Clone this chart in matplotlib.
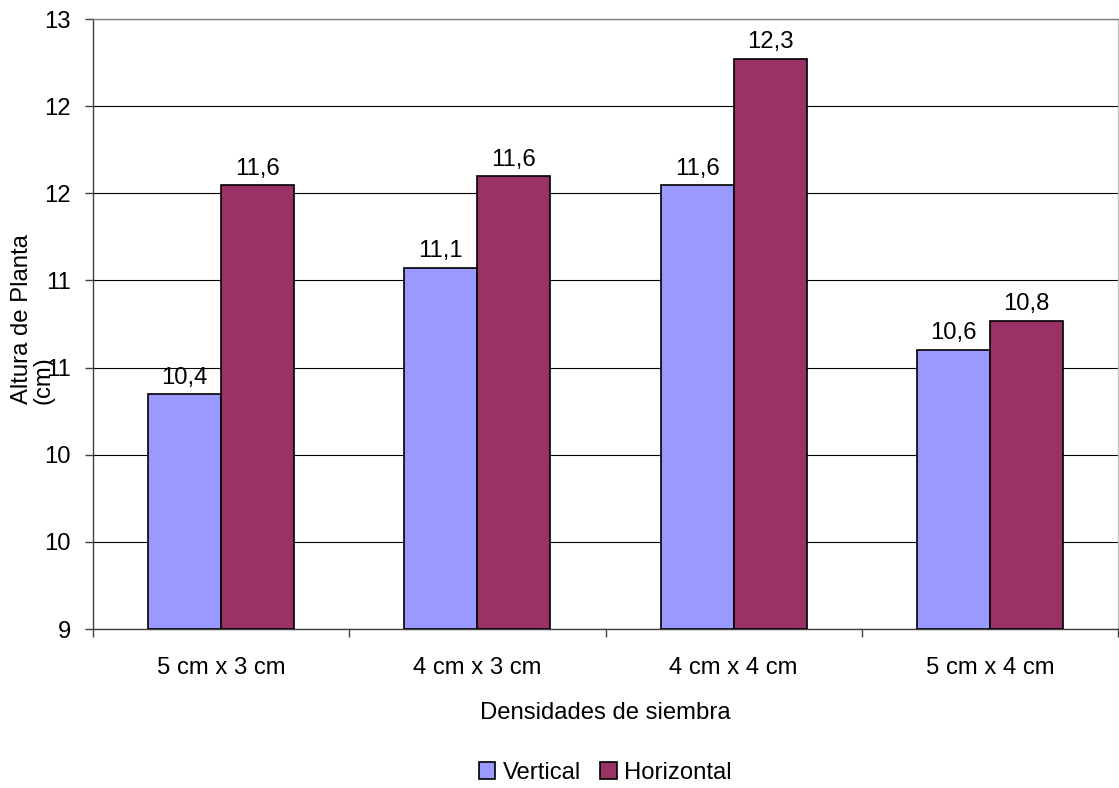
import numpy as np
import matplotlib
matplotlib.use("Agg")
import matplotlib.pyplot as plt

plt.rcParams['font.family'] = ['Liberation Sans', 'DejaVu Sans']

# data
categories = ['5 cm x 3 cm', '4 cm x 3 cm', '4 cm x 4 cm', '5 cm x 4 cm']
vertical = [10.54, 11.37, 11.91, 10.83]
horizontal = [11.91, 11.97, 12.74, 11.02]
vertical_labels = ['10,4', '11,1', '11,6', '10,6']
horizontal_labels = ['11,6', '11,6', '12,3', '10,8']
ytick_values = np.linspace(9, 13, 8)
ytick_labels = ['9', '10', '10', '11', '11', '12', '12', '13']

FS = 17.2
fig = plt.figure(figsize=(11.19, 7.88), dpi=100)
ax = fig.add_axes([93 / 1119, 1 - 629 / 788, 1025 / 1119, 610 / 788])

x = np.arange(len(categories))
w = 0.285
bv = ax.bar(x - w / 2, np.array(vertical) - 9, w, bottom=9, color='#9999ff',
            edgecolor='black', linewidth=1.2, label='Vertical', zorder=3)
bh = ax.bar(x + w / 2, np.array(horizontal) - 9, w, bottom=9, color='#993366',
            edgecolor='black', linewidth=1.2, label='Horizontal', zorder=3)

for bars, labels in ((bv, vertical_labels), (bh, horizontal_labels)):
    for b, lab in zip(bars, labels):
        ax.annotate(lab, (b.get_x() + b.get_width() / 2, b.get_y() + b.get_height()),
                    xytext=(0, 4), textcoords='offset points', ha='center', va='bottom',
                    fontsize=FS)

ax.set_xlim(-0.5, len(categories) - 0.5)
ax.set_ylim(9, 13)
ax.set_yticks(ytick_values)
ax.set_yticklabels(ytick_labels, fontsize=FS)
ax.yaxis.grid(True, color='black', linewidth=0.8, zorder=0)

ax.set_xticks(x)
ax.set_xticklabels(categories, fontsize=FS)
ax.set_xticks(np.arange(-0.5, len(categories)), minor=True)
ax.tick_params(axis='x', which='major', length=0, pad=20)
ax.tick_params(axis='x', which='minor', length=6, width=1, color='#404040')
ax.tick_params(axis='y', length=6, width=1, color='#404040', pad=10)

ax.spines['left'].set_color('#404040')
ax.spines['bottom'].set_color('#404040')
ax.spines['top'].set_color('#808080')
ax.spines['right'].set_color('#c0c0c0')
for s in ax.spines.values():
    s.set_linewidth(1)

ax.set_xlabel('Densidades de siembra', fontsize=FS, labelpad=17)
# y label: two lines, bottom-aligned like the original
fig.text(33 / 1119, 1 - 404 / 788, 'Altura de Planta\n(cm)', fontsize=FS,
         rotation=90, ha='center', va='bottom', multialignment='left',
         linespacing=0.95)

fig.legend(handles=[bv, bh], loc='center', bbox_to_anchor=(605 / 1119, 1 - 773 / 788),
           ncol=2, frameon=False, fontsize=FS, handlelength=0.7, handleheight=0.7,
           handletextpad=0.3, columnspacing=0.8)

fig.savefig('out.png', dpi=100)
